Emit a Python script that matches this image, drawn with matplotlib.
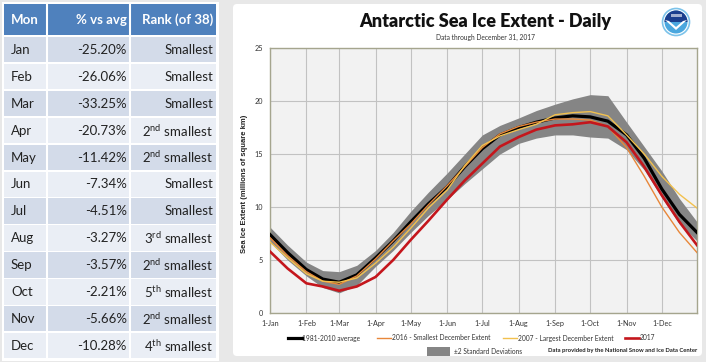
import numpy as np
import matplotlib
matplotlib.use('Agg')
import matplotlib.pyplot as plt
from matplotlib.patches import Rectangle, FancyBboxPatch, Circle, Wedge, Polygon

plt.rcParams['font.family'] = ['Lato', 'DejaVu Sans']
plt.rcParams['mathtext.fontset'] = 'custom'
plt.rcParams['mathtext.rm'] = 'Lato'
plt.rcParams['mathtext.bf'] = 'Lato:bold'

# table data
months = ['Jan', 'Feb', 'Mar', 'Apr', 'May', 'Jun', 'Jul', 'Aug', 'Sep', 'Oct', 'Nov', 'Dec']
pct_vs_avg = ['-25.20%', '-26.06%', '-33.25%', '-20.73%', '-11.42%', '-7.34%',
              '-4.51%', '-3.27%', '-3.57%', '-2.21%', '-5.66%', '-10.28%']
ranks = ['Smallest', 'Smallest', 'Smallest', '2nd smallest', '2nd smallest', 'Smallest',
         'Smallest', '3rd smallest', '2nd smallest', '5th smallest', '2nd smallest', '4th smallest']

# chart data (day of year, millions of sq km)
days = [0, 15, 31, 45, 59, 74, 90, 105, 120, 135, 151, 166, 181, 196, 212, 227,
        243, 258, 273, 288, 304, 319, 334, 349, 364]
avg_8110 = [7.4, 5.7, 4.1, 3.2, 2.9, 3.6, 5.2, 6.8, 8.6, 10.3, 11.9, 13.8, 15.5, 16.8, 17.5, 18.0,
            18.4, 18.6, 18.5, 18.1, 16.8, 14.6, 11.7, 9.3, 7.6]
band_hi = [8.1, 6.4, 4.8, 4.0, 3.9, 4.5, 5.9, 7.6, 9.6, 11.4, 13.2, 15.0, 16.8, 17.7, 18.4, 19.1,
           19.7, 20.2, 20.6, 20.5, 18.0, 15.7, 13.4, 10.8, 8.6]
band_lo = [6.7, 5.0, 3.5, 2.4, 1.9, 2.6, 4.4, 5.9, 7.6, 9.2, 10.7, 12.2, 13.6, 15.0, 16.0, 16.5,
           16.8, 16.8, 16.6, 16.5, 15.4, 13.5, 10.9, 8.4, 6.8]
ext_2016 = [7.1, 5.4, 3.9, 3.0, 2.7, 3.5, 5.1, 6.8, 8.4, 10.2, 12.0, 13.8, 15.6, 16.9, 17.6, 18.0,
            18.3, 18.3, 18.2, 17.6, 15.6, 12.9, 10.0, 7.6, 5.7]
ext_2007 = [6.7, 5.2, 3.7, 3.0, 2.9, 3.3, 4.7, 6.2, 8.0, 9.9, 11.6, 13.9, 15.8, 16.7, 17.3, 17.8,
            18.7, 18.9, 19.0, 18.6, 16.8, 15.0, 12.9, 11.2, 9.9]
ext_2017 = [5.8, 4.2, 2.8, 2.5, 2.1, 2.5, 3.4, 5.0, 6.9, 8.7, 10.7, 12.5, 14.1, 15.7, 16.6, 17.3,
            17.7, 17.8, 18.0, 17.6, 16.1, 13.8, 11.1, 8.6, 6.4]
month_starts = [0, 31, 59, 90, 120, 151, 181, 212, 243, 273, 304, 334]
month_labels = ['1-Jan', '1-Feb', '1-Mar', '1-Apr', '1-May', '1-Jun',
                '1-Jul', '1-Aug', '1-Sep', '1-Oct', '1-Nov', '1-Dec']

W, H = 706, 362
fig = plt.figure(figsize=(W / 100, H / 100), dpi=100)
fig.patch.set_facecolor('#e8e8e8')
bg = fig.add_axes([0, 0, 1, 1])
bg.set_xlim(0, W)
bg.set_ylim(H, 0)
bg.axis('off')

# ---- table ----
bg.add_patch(Rectangle((2, 2), 217, 359, fc='white', ec='none'))
cols = [(4, 42), (48, 81), (131, 85)]
bg.add_patch(Rectangle((4, 4), 212, 31, fc='#4f81bd', ec='none'))
for x0, w in cols[1:]:
    bg.add_line(plt.Line2D([x0 - 1, x0 - 1], [4, 360], color='white', lw=1.5))
hy = 20
bg.text(11, hy, 'Mon', color='white', fontsize=9.5, fontweight='bold', va='center', ha='left')
bg.text(127, hy, '% vs avg', color='white', fontsize=9.5, fontweight='bold', va='center', ha='right')
bg.text(213, hy, 'Rank (of 38)', color='white', fontsize=9.5, fontweight='bold', va='center', ha='right')

def rank_txt(r):
    if r[0].isdigit():
        num, rest = r.split(' ', 1)
        return num[0] + r'$^{\mathrm{' + num[1:] + '}}$ ' + rest
    return r

row_h = 26.9
for i, m in enumerate(months):
    y0 = 37 + i * row_h
    fc = '#d3dbe9' if i % 2 == 0 else '#eaeef5'
    for x0, w in cols:
        bg.add_patch(Rectangle((x0, y0), w, row_h - 1.5, fc=fc, ec='none'))
    yc = y0 + row_h / 2 - 0.5
    bg.text(11, yc, m, fontsize=9.5, color='#222222', va='center', ha='left')
    bg.text(127, yc, pct_vs_avg[i], fontsize=9.5, color='#222222', va='center', ha='right')
    bg.text(213, yc, rank_txt(ranks[i]), fontsize=9.5, color='#222222', va='center', ha='right')

# ---- chart panel ----
bg.add_patch(FancyBboxPatch((233, 4), 469, 352, boxstyle='round,pad=0,rounding_size=4',
                            fc='white', ec='none'))
bg.text(485, 22, 'Antarctic Sea Ice Extent - Daily', fontsize=13, fontweight='heavy',
        ha='center', va='center', color='#111111')
bg.text(485, 37, 'Data through December 31, 2017', fontsize=4.8, ha='center', va='center',
        color='#333333')
bg.text(244, 184, 'Sea Ice Extent (millions of square km)', rotation=90, fontsize=5.5,
        fontweight='bold', family='Liberation Sans', ha='center', va='center', color='#222222')

# noaa style logo
bg.add_patch(Circle((676, 22), 13.5, fc='white', ec='#7cc3ea', lw=1.2))
bg.add_patch(Circle((676, 22), 11.5, fc='#4aa7de', ec='none'))
bg.add_patch(Wedge((676, 22), 11.5, 180, 360, fc='#1b3f8e', ec='none'))
bg.add_patch(Polygon([(665, 20), (676, 30), (687, 20), (683, 21), (676, 27), (669, 21)],
                     closed=True, fc='white', ec='none'))
bg.add_patch(Rectangle((670.5, 13.5), 11, 3, fc='white', ec='none', alpha=0.6))

# legend
ly1, ly2 = 338, 351
leg = [(288, '#000000', 2.3, '1981-2010 average'),
       (377, '#e8873a', 1.0, '2016 - Smallest December Extent'),
       (503, '#f2c14e', 1.0, '2007 - Largest December Extent'),
       (625, '#c4161c', 1.9, '2017')]
for x0, c, lw, lab in leg:
    bg.add_line(plt.Line2D([x0, x0 + 14], [ly1, ly1], color=c, lw=lw))
    bg.text(x0 + 14.5, ly1, lab, fontsize=4.8, va='center', ha='left', color='#333333')
bg.add_patch(Rectangle((427, 347), 23, 9, fc='#858585', ec='none'))
bg.text(454, ly2, '\u00b12 Standard Deviations', fontsize=4.8, va='center', ha='left',
        color='#333333')
bg.text(697, ly2 - 0.5, 'Data provided by the National Snow and Ice Data Center', fontsize=4.2,
        fontweight='bold', va='center', ha='right', color='#222222')

# ---- plot ----
ax = fig.add_axes([270 / W, 1 - 313 / H, 427 / W, 265 / H])
ax.set_facecolor('#f2f2f2')
ax.fill_between(days, band_lo, band_hi, color='#858585', lw=0, zorder=2)
ax.plot(days, avg_8110, color='#000000', lw=2.3, zorder=3)
ax.plot(days, ext_2016, color='#e8873a', lw=1.0, zorder=4)
ax.plot(days, ext_2007, color='#f2c14e', lw=1.0, zorder=5)
ax.plot(days, ext_2017, color='#c4161c', lw=1.9, zorder=6)
ax.set_xlim(0, 364)
ax.set_ylim(0, 25)
ax.set_xticks(month_starts)
ax.set_xticklabels(month_labels)
ax.set_yticks(range(0, 26, 5))
ax.grid(color='#c2c2c2', lw=0.8)
ax.set_axisbelow(True)
ax.tick_params(length=0, labelsize=5.2, colors='#333333', pad=5)
for s in ax.spines.values():
    s.set_color('#a5a58e')
    s.set_linewidth(1)

fig.savefig('out.png', dpi=100)
